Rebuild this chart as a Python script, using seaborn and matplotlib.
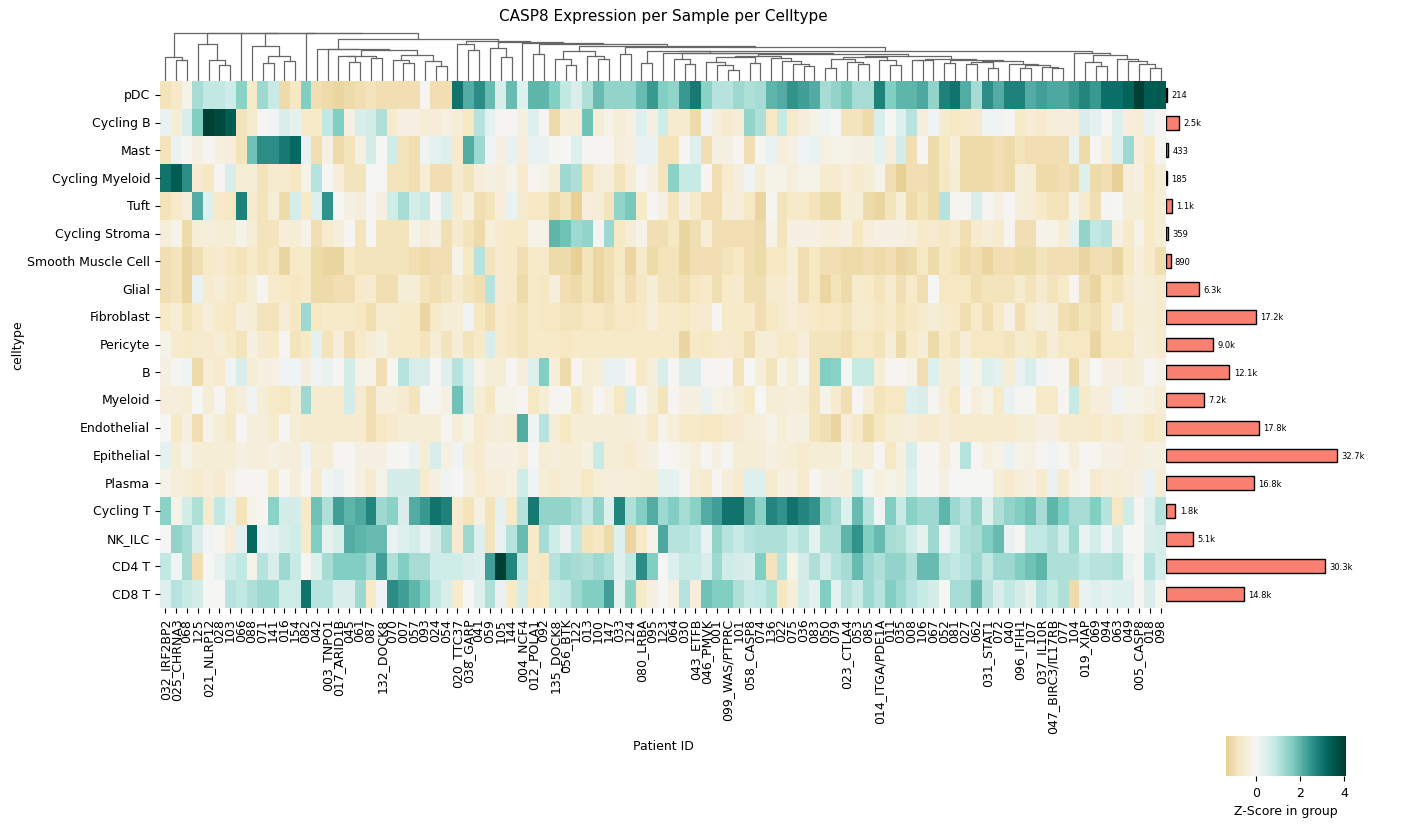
import numpy as np
import pandas as pd
import seaborn as sns
import matplotlib
matplotlib.use("Agg")
import matplotlib.pyplot as plt

# Column order as shown under the heatmap
patients = ['032_IRF2BP2', '025_CHRNA3', '068', '125', '021_NLRP12', '028', '103', '066', '088', '071',
            '141', '016', '154', '082', '042', '003_TNPO1', '017_ARID1B', '045', '061', '087',
            '132_DOCK8', '070', '007', '057', '093', '024', '054', '020_TTC37', '038_GARP', '041',
            '059', '105', '144', '004_NCF4', '012_POLA1', '092', '135_DOCK8', '056_BTK', '122', '013',
            '100', '147', '033', '124', '080_LRBA', '095', '123', '064', '030', '043_ETFB',
            '046_PMVK', '001', '099_WAS/PTPRC', '101', '058_CASP8', '074', '136', '022', '075', '036',
            '083', '050', '079', '023_CTLA4', '053', '085', '014_ITGA/PDE1A', '011', '035', '008',
            '106', '067', '052', '081', '027', '062', '031_STAT1', '072', '040', '096_IFIH1',
            '107', '037_IL10R', '047_BIRC3/IL17RB', '077', '104', '019_XIAP', '069', '094', '063', '049',
            '005_CASP8', '018', '098']

celltypes = ['pDC', 'Cycling B', 'Mast', 'Cycling Myeloid', 'Tuft', 'Cycling Stroma',
             'Smooth Muscle Cell', 'Glial', 'Fibroblast', 'Pericyte', 'B', 'Myeloid',
             'Endothelial', 'Epithelial', 'Plasma', 'Cycling T', 'NK_ILC', 'CD4 T', 'CD8 T']

cell_counts = [214, 2500, 433, 185, 1100, 359, 890, 6300, 17200, 9000, 12100, 7200,
               17800, 32700, 16800, 1800, 5100, 30300, 14800]

# z-scores, one list per cell type
z_pdc = [-0.9, -0.7, -0.2, 1.2, 0.9, 0.9, 0.7, 1.5, -0.7, 1.3, 0.8, -1.1, -0.8, 1.6, -1.0, -1.1, -1.2, -1.1, -1.0, -0.9, -1.0, -1.0, -1.0, -1.0,
         -0.1, -1.0, -1.0, 3.0, 2.1, 2.6, 1.9, 0.5, 1.9, 0.4, 2.0, 2.0, 1.6, 0.9, 0.5, 1.1, 1.9, 1.4, 1.4, 1.4, 1.9, 2.4, 1.6, 1.4,
         2.4, 2.9, 1.5, 1.0, 1.0, 1.3, 1.1, 1.2, 2.0, 2.1, 2.5, 2.3, 2.1, 1.2, 1.4, 1.7, 1.2, 1.2, 2.8, 1.6, 2.0, 2.0, 2.2,
         1.4, 2.8, 3.0, 2.1, 1.2, 2.6, 2.1, 2.8, 2.8, 2.1, 2.3, 2.2, 2.2, 2.4, 2.7, 2.4, 3.1, 3.1, 3.3, 4.0, 3.4, 3.5]
z_cycling_b = [0.2, -0.5, 0.5, 1.6, 4.0, 3.8, 3.4, -0.9, -0.6, -0.1, 0.1, 0.5, 0.3, -0.7, -0.7, 0.9, 1.6, -0.3, 0.5, 0.6, 1.1, -0.6, -0.3, -0.3,
               -0.5, -0.5, -0.3, -0.5, -0.8, 1.0, 0.3, -0.1, -0.1, -0.3, 0.4, -0.1, -1.1, -0.4, -0.5, 1.8, -0.5, -0.2, -0.5, -0.3, 0.4, -0.3, 0.7, -0.6,
               -0.6, -1.1, 0.1, -0.4, -0.6, -0.5, 1.4, 1.1, -0.8, 0.8, -0.7, -0.4, -0.2, 0.1, 0.0, -0.9, -0.9, -1.1, 0.5, 0.0, 0.4, 1.0, -0.4,
               0.1, -0.6, -0.8, -0.7, -0.6, 0.1, 0.1, -0.1, -0.7, -0.5, -0.6, -0.4, -0.4, -0.4, 0.5, 0.3, 0.0, 0.4, -0.4, -0.5, 0.2, -0.1]
z_mast = [-0.9, 0.2, -0.1, -0.3, -0.1, -0.3, -0.4, -0.9, 1.8, 2.6, 2.6, 2.9, 3.2, 0.2, -1.0, -0.3, -1.1, -0.9, -0.3, 0.6, 0.0, 0.7, -0.9, -1.0,
          0.1, 0.3, 0.4, -0.6, 2.1, 1.3, 0.1, -0.3, 0.2, -0.4, 0.2, 0.2, -0.1, 0.0, 0.4, -0.1, -0.1, -0.1, -0.4, -0.3, 0.2, 0.2, -0.9, -0.9,
          -0.1, 0.4, -1.0, -0.3, -0.3, -0.1, -1.0, -0.1, 0.2, -0.4, -0.3, 0.1, 0.2, -0.3, -0.2, -0.2, -0.3, -0.3, 0.3, -0.4, 0.6, -1.0, -0.1,
          -1.1, -0.8, -0.4, -1.1, -1.1, -1.1, -1.0, -1.1, -0.9, -1.0, -1.0, -1.0, -1.0, 0.2, -1.1, 0.0, -0.4, 0.4, 1.3, -0.4, -0.7, -0.1]
z_cycling_myeloid = [3.0, 3.4, 2.6, -0.6, -0.8, -0.1, 0.5, -0.5, -0.5, -0.9, -0.6, -0.6, -0.8, -0.2, 1.0, 0.0, -0.4, -0.9, -0.9, 0.0, 0.0, -0.9, -0.9, -1.0,
                     -0.5, -1.0, -1.0, -0.6, -0.9, -0.4, -0.3, -0.4, -0.2, -0.6, -0.1, -0.2, -0.5, 1.3, 1.1, -0.9, -0.5, -0.4, -0.9, -0.5, -0.1, -0.3, -0.9, 1.5,
                     0.8, 0.8, -0.1, -1.0, -0.6, -0.4, 0.1, -0.5, -0.2, -0.2, -0.4, -0.2, -0.2, -0.6, -0.6, -0.4, -0.6, -0.5, -0.2, -1.0, -1.3, -1.0, -1.0,
                     -1.1, -0.8, -0.5, -1.1, -1.1, -1.1, -1.0, -1.1, -0.4, -0.5, -1.1, -1.1, -1.0, -1.1, 0.4, -1.1, -1.0, -1.3, -0.4, -0.3, -0.8, -0.5]
z_tuft = [-0.9, -0.7, -0.4, 2.1, 0.4, -0.7, -0.8, 2.8, -0.6, -0.9, -0.5, -1.1, 0.6, -0.7, 0.4, 2.5, 0.0, -0.3, -0.4, -0.1, -0.3, 0.7, 1.2, 0.6,
          0.8, -0.1, 0.5, -0.6, -0.3, -1.0, -0.9, -0.4, 0.2, -0.6, -0.8, -0.8, -1.1, -0.9, -1.3, -0.4, -0.5, -0.9, 1.4, 1.7, -0.7, -0.1, -0.3, -0.9,
          -0.3, -0.7, -1.0, -1.0, -0.5, -0.4, -0.8, -1.2, -0.1, -0.9, -0.7, -0.7, -0.9, -1.1, -1.1, -0.5, -0.5, -1.1, -1.2, -0.9, -0.4, -1.1, -0.9,
          -1.1, 1.0, -0.1, -0.1, 0.5, -0.1, -0.3, -0.1, -0.4, -0.5, -0.7, -0.9, -0.9, -0.2, -0.6, -1.0, -0.1, 0.0, -0.5, -0.5, -0.7, -0.5]
z_cycling_stroma = [-0.4, -0.2, -1.1, -0.5, -0.4, -0.5, -0.5, -0.2, -0.5, -0.9, -0.9, -0.4, -0.5, -0.2, -1.0, -0.6, -0.4, -0.1, -0.9, -0.1, -0.9, -0.9, -0.9, -0.2,
                    -0.5, -0.3, -1.0, -0.6, -0.9, -1.1, -0.4, -0.6, -0.7, -0.7, -0.2, -0.2, 2.0, 1.8, 1.3, 1.4, -0.1, 1.3, -0.8, -0.5, -0.2, -1.0, -1.0, -0.8,
                    -1.2, -1.0, -0.5, -1.0, -1.0, -1.0, -1.0, -1.1, -0.2, -0.9, -0.3, -0.3, -0.3, -0.4, -0.4, -0.3, -0.8, -0.4, -0.3, -0.3, -0.3, -0.4, -0.7,
                    -0.6, -0.8, -0.6, -1.0, -0.6, -0.5, -0.6, -0.1, -1.0, -1.0, -0.2, -0.2, -0.5, 0.3, 1.4, 0.9, 1.0, -0.3, -0.7, -0.2, -0.7, -0.5]
z_smooth_muscle = [-1.0, -0.9, -1.2, -1.0, -0.7, -0.6, -0.8, -0.9, -0.7, -0.9, -0.8, -1.2, -0.7, -0.7, -1.1, -1.2, -1.2, -0.8, -0.9, -0.9, -0.9, -0.9, -0.9, -1.0,
                   -1.1, -1.0, -1.0, -0.2, -0.8, 1.0, -0.9, -0.6, -0.7, -1.0, -0.7, -0.7, -1.1, -1.1, -1.3, -0.9, -1.2, -1.0, -0.8, -1.2, -0.7, -1.1, -0.9, -0.9,
                   -1.2, -1.0, -1.0, -1.0, -0.9, -0.8, -1.0, -1.1, -0.8, -0.8, -0.5, -1.0, -0.8, -1.0, -1.0, -1.1, -1.1, -1.0, -1.1, -1.0, -1.2, -1.1, -0.8,
                   -1.1, -0.8, -0.9, -1.1, -1.0, -1.2, -1.0, -1.0, -1.1, -1.1, -0.9, -1.0, -1.0, -1.0, -1.2, -1.0, -1.0, -1.2, -0.8, -0.4, -0.7, -1.0]
z_glial = [-1.0, -0.9, -1.2, 0.2, -0.6, -0.5, -0.7, -0.8, -0.5, -0.1, -0.6, -0.7, -0.8, -0.7, -1.1, -1.1, -1.0, -1.0, -0.7, -0.6, -1.0, -1.0, -0.5, -0.5,
           -0.9, -1.0, -0.9, -0.6, -0.9, -1.0, 1.0, -0.6, -0.7, -1.1, -0.7, -0.8, -0.4, -1.0, -1.1, -0.9, -1.2, -1.0, -0.7, -1.0, -0.8, -0.5, -0.9, -0.9,
           -1.0, -0.8, -0.7, -1.0, -0.7, -0.6, -1.0, -1.0, -0.6, -0.6, -0.4, -1.0, -0.8, -1.2, -0.9, -1.1, -0.6, -0.7, -0.9, -0.6, -1.0, -0.7, -1.0,
           0.0, -0.8, -0.8, -0.8, -1.0, -0.9, -0.9, -0.9, -0.6, -0.9, -0.6, -0.9, -0.7, -0.1, -1.0, -1.2, -0.8, -0.9, -0.6, -0.4, -0.5, -0.6]
z_fibroblast = [-0.7, -0.5, -0.9, -0.7, -0.4, -0.7, -0.8, -0.4, -0.5, -0.9, -0.9, -0.5, -0.8, 1.3, -0.8, -0.7, -0.7, -0.7, -0.8, -1.0, -0.6, -0.6, -0.7, -0.7,
                -1.2, -0.7, -0.5, -0.5, 0.1, -0.8, -1.0, -0.6, -0.8, -0.9, -0.7, -0.8, -0.8, -0.9, -0.9, -0.8, -0.8, -0.9, -0.8, -0.8, -0.7, -0.4, -0.7, -0.7,
                -0.8, -0.6, -0.6, -0.1, -0.7, -0.7, -0.7, -1.0, -0.8, -0.6, -0.5, -0.6, -0.7, -0.8, -0.8, -0.9, -0.6, -0.6, -0.8, -0.7, -0.9, -0.8, -0.6,
                -0.5, -0.6, -0.7, -1.0, -0.7, -1.0, -0.7, -0.3, -1.0, -0.6, -0.4, -0.5, -1.0, -1.1, -0.9, -1.0, -0.8, -0.3, -0.7, -0.5, -0.5, -0.6]
z_pericyte = [-0.2, -0.6, -0.7, -0.6, -0.6, -0.5, -0.7, -0.9, -0.3, -0.6, -0.7, -0.1, -0.9, -0.7, 0.3, -0.9, -0.4, -1.0, -0.7, -0.5, -0.3, -0.7, -0.7, -0.7,
              -0.9, -0.5, -0.9, -0.5, -0.9, -0.7, 0.5, -0.6, -0.8, -0.9, -0.7, -0.7, -0.7, -0.8, -0.7, -0.7, -0.7, -0.7, -0.7, -0.7, -0.7, -0.7, -0.7, -0.7,
              -1.2, -0.7, -0.8, -0.7, -0.6, -0.7, -1.0, -0.5, -0.5, -0.7, -0.7, -0.4, -0.9, -0.9, -0.9, -1.0, -0.8, -0.8, -0.9, -0.5, -1.1, -0.7, -0.5,
              -1.1, -0.7, -0.9, -0.5, -0.8, -0.8, -0.8, -0.9, -0.6, -0.7, -0.9, -0.5, -0.8, -0.8, -0.8, -1.2, -0.8, -0.8, -0.8, -0.4, -0.5, -0.6]
z_b = [-0.3, -0.1, 0.1, -1.1, -0.5, -0.6, 0.1, 0.5, -0.5, -0.3, -0.3, 0.1, 0.1, -0.4, 0.1, 0.2, -0.1, 0.6, -0.2, -0.2, -1.0, -0.1, 1.0, 0.5,
       0.5, 0.0, 0.4, 1.0, 0.4, -0.2, -0.5, -0.5, -0.1, -0.4, 0.4, 1.6, -0.4, -1.1, -0.1, -0.5, -0.4, 0.2, 0.2, -0.1, -0.7, -0.4, 0.5, -0.1,
       0.5, 0.5, -0.1, -0.1, -0.1, -0.9, 0.0, -0.4, -0.9, -0.2, -0.5, -0.1, -0.9, 1.6, 1.5, 0.0, 0.8, 0.8, -0.5, -0.1, -0.1, -0.2, -1.0,
       0.4, -0.5, -0.5, 0.1, -0.2, 0.4, 0.3, -0.5, 0.2, 0.5, 0.1, -0.1, -0.1, -1.1, -0.5, 0.0, -0.3, -0.3, -0.5, -0.4, -0.1, -0.2]
z_myeloid = [-0.4, -0.4, -0.5, 0.0, -0.5, -0.1, -0.6, -0.4, 0.1, -0.5, -0.7, -0.8, -0.5, 1.3, -0.6, -0.6, -0.6, 0.6, -0.6, -1.0, -0.4, -0.4, -0.6, -0.9,
             -0.1, -0.1, -0.3, 1.8, 0.5, -0.5, -0.8, -0.2, -0.2, -0.1, -0.8, -0.5, -0.1, -0.1, -0.8, -0.5, -0.1, -0.3, -0.8, 0.5, -0.1, -0.5, -0.9, -0.1,
             -0.3, -0.3, 0.2, -0.2, -0.3, -0.5, -0.7, 0.0, -0.5, -0.5, -0.4, -0.5, -0.9, -0.2, -0.6, -1.0, -0.1, -0.5, -0.9, -0.8, -0.8, 0.4, 0.5,
             -0.1, -0.5, -0.8, -0.1, -0.4, -0.2, -0.7, 0.2, -0.1, -0.1, -0.7, -0.7, -0.1, 0.8, -0.7, -0.4, -0.4, 0.1, -0.2, -0.2, -0.3, -0.5]
z_endothelial = [0.0, -0.7, -0.3, -1.0, -0.2, -0.5, -0.7, -0.1, -0.4, -0.4, -0.6, -0.1, -0.5, -0.6, -0.6, -0.6, -0.6, -0.6, -0.6, -1.0, -0.8, -0.6, -0.5, -0.5,
                 -0.5, -0.5, -0.1, -0.4, -0.2, -0.6, -0.5, -0.4, -0.5, 2.1, 0.1, 1.0, -0.5, -0.8, -0.5, -0.5, -0.5, -0.5, -0.5, -0.5, -0.4, -0.7, -0.2, -0.4,
                 -0.7, -0.7, -0.8, -0.8, -0.6, -0.6, -0.4, -0.4, -0.2, -0.5, -0.3, -0.3, -0.9, -1.0, -1.2, -0.4, -0.7, -1.1, -0.8, -0.5, -0.5, -0.4, -0.6,
                 -0.6, -0.4, -0.6, -0.6, -0.6, -0.6, -0.6, -0.6, -0.5, -0.5, -0.3, -0.3, -0.6, -0.6, -0.6, -0.7, -0.5, -0.6, -0.4, -0.5, -0.8, -0.6]
z_epithelial = [0.3, -0.5, -0.2, -0.5, -0.5, -0.5, -0.5, -0.3, -0.4, -0.4, -0.3, -0.4, -0.4, 0.1, -0.5, -0.5, -0.1, -0.1, -0.3, -0.3, -0.3, -0.1, 0.0, 0.2,
                -0.5, 0.5, -0.3, 0.1, -0.5, -0.6, -0.3, -0.3, -0.3, -0.5, 0.0, -0.5, -0.4, -0.5, -0.5, -0.3, 0.8, -0.5, -0.5, -0.6, -0.4, -0.3, 0.0, -0.1,
                -0.2, -0.4, -0.1, -0.3, -0.1, -0.5, -0.5, -0.5, -0.3, -0.4, -0.5, -0.6, -0.5, -0.5, -0.5, -0.2, -0.5, -0.5, -0.1, -0.8, -0.3, 0.5, -0.1,
                -0.1, -0.4, -0.1, 1.0, -0.1, -0.3, -0.2, 0.2, -0.2, -0.3, -0.1, 0.1, -0.1, -0.4, -0.1, -0.1, -0.3, -0.3, -0.4, -0.4, -0.3, -0.3]
z_plasma = [-0.2, -0.4, -0.5, -0.6, -0.4, -0.6, -0.3, -0.1, -0.1, -0.1, -0.6, -0.1, -0.4, -0.1, -0.6, 0.1, 0.2, -0.1, -0.3, -0.6, -0.2, 0.6, 0.6, 0.6,
            -0.6, -0.3, 0.1, 0.0, -0.3, -0.6, -0.4, -0.4, -0.3, 0.7, 0.1, -0.5, -0.6, -0.5, -0.5, -0.8, -0.5, -0.4, -0.4, -0.4, -0.5, -0.5, 0.3, 0.3,
            -0.1, -0.5, -0.6, -0.1, -0.4, -0.6, 0.4, 0.4, -0.6, -0.3, -0.3, -0.6, -0.1, -0.3, -0.3, -0.4, 0.6, -0.1, -0.3, -0.2, -0.3, 0.4, -0.1,
            -0.1, -0.3, 0.0, 0.0, 0.0, 0.0, -0.5, -0.6, -0.4, -0.3, -0.6, 0.2, -0.6, -0.2, -0.1, -0.6, -0.4, -0.5, -0.4, -0.3, 0.2, -0.5]
z_cycling_t = [1.5, -0.2, 0.6, 1.1, -0.6, 0.9, 0.3, -0.9, -0.2, -0.1, 1.5, 0.6, 0.6, -0.7, 1.8, 1.1, 2.3, 2.0, 2.2, 2.7, 1.3, 1.5, 0.5, 2.1,
               2.4, 3.0, 2.8, -0.6, -0.9, -0.3, -0.9, 0.3, -0.7, 1.0, 2.9, 1.4, 1.4, 1.4, 1.2, 0.9, 1.4, 0.4, 2.7, 1.1, 1.6, 2.1, 1.3, 1.6,
               1.2, 1.5, 2.1, 2.3, 3.0, 3.0, 2.1, 1.5, 2.7, 2.5, 3.0, 2.7, 2.5, 1.4, 1.2, 0.4, 1.9, 1.0, 0.1, 1.6, 0.8, 1.5, 1.3,
               1.3, 2.0, 1.3, 1.0, 1.4, 0.4, 1.1, 1.4, 1.6, 1.8, 1.2, 2.0, 1.6, 1.2, 1.2, 1.6, 1.0, -0.8, 0.7, -0.1, 0.4, 1.0]
z_nk_ilc = [0.0, 1.4, 1.2, 0.5, 0.1, -0.1, -0.5, 0.3, 3.2, 0.2, 0.3, 0.5, 0.7, -0.7, 1.6, 0.3, 0.5, 2.1, 2.0, 1.9, 1.9, 0.2, 0.4, 0.6,
            0.2, 0.6, 1.2, -0.6, 1.3, 0.4, -0.9, 0.2, 1.0, 1.9, -0.7, 1.2, 0.7, 0.2, 0.9, -0.9, -0.8, -1.1, 0.4, -1.2, -0.7, -0.2, 2.2, 1.0,
            1.0, 0.9, 0.2, 1.4, 1.0, 0.8, 1.0, 1.1, 1.1, 1.1, 0.8, 1.0, 0.3, 1.1, 1.1, 2.0, 2.5, 1.6, 1.9, 1.2, 1.1, 0.7, 0.3,
            1.3, 0.1, 0.6, 1.1, 1.2, 1.6, 1.9, 0.2, -0.1, 0.9, 0.9, 1.1, 0.7, 1.3, 0.2, 0.6, 0.1, 0.6, 0.0, 0.0, 0.5, 0.6]
z_cd4_t = [0.9, 0.1, 1.2, -1.0, 0.0, 0.2, 0.7, 0.9, -0.2, 1.0, 0.5, 1.3, 0.8, -0.1, 0.4, 1.2, 1.6, 1.6, 1.6, 1.2, 2.3, 1.1, 1.6, 1.2,
           1.2, 0.7, 0.7, 0.7, 0.5, 0.4, 2.3, 4.0, 2.7, 0.9, -0.7, -0.8, 1.0, 1.3, 1.2, 1.1, 1.3, 1.1, 0.4, 0.9, 2.6, 1.6, 0.0, 0.4,
           0.8, 0.8, 0.5, 1.3, 0.7, 0.6, 0.5, 1.6, -0.9, 1.0, -0.2, 0.6, 1.1, 0.6, 1.0, 1.2, 1.9, 1.3, 1.1, 1.4, 1.4, 1.1, 1.9,
           1.9, 1.0, 0.9, 1.0, 1.3, 0.9, 1.3, 1.3, 1.6, 1.8, 2.0, 1.1, 1.1, 1.1, 0.9, 1.0, 1.0, 1.1, 0.2, -0.1, 1.0, 0.6]
z_cd8_t = [0.4, 1.0, 0.8, 0.6, 0.0, 0.0, 1.0, 0.9, 1.1, 1.3, 1.3, 0.7, 0.7, 3.0, 1.0, 1.0, 0.5, 0.5, 1.3, -0.7, 0.1, 2.6, 2.3, 2.0,
           1.6, 0.9, 0.5, -0.6, 0.0, 0.4, 1.1, 0.2, -0.7, 0.6, -0.8, -0.7, 0.8, 0.9, 1.3, 1.6, 1.6, 2.3, 0.3, 1.5, -0.7, -0.3, 0.0, -0.3,
           1.0, -0.4, 1.8, 1.6, 1.6, 1.1, 0.8, 0.9, 1.1, -0.8, -0.4, 0.6, 0.3, 1.6, 0.3, 1.0, 0.8, 1.3, 1.0, 1.6, 1.3, 1.0, 0.8,
           0.6, 0.0, 1.2, 1.2, 1.9, 1.0, 0.5, 0.9, 0.6, 0.3, 1.0, 0.8, 1.1, -1.1, 0.2, 0.4, 0.3, 0.4, 0.4, -0.1, 0.5, -0.1]

rows = [z_pdc, z_cycling_b, z_mast, z_cycling_myeloid, z_tuft, z_cycling_stroma, z_smooth_muscle,
        z_glial, z_fibroblast, z_pericyte, z_b, z_myeloid, z_endothelial, z_epithelial, z_plasma,
        z_cycling_t, z_nk_ilc, z_cd4_t, z_cd8_t]
for name, r in zip(celltypes, rows):
    assert len(r) == len(patients), (name, len(r))

df = pd.DataFrame(rows, index=celltypes, columns=patients)


def ordered_linkage(X):
    # average linkage, but only neighbours may merge, so the leaf order stays as drawn
    clusters = [dict(members=[i], x=i + 0.5, h=0.0) for i in range(len(X))]
    segs = []
    while len(clusters) > 1:
        best, bi = None, 0
        for i in range(len(clusters) - 1):
            a = X[clusters[i]['members']]
            b = X[clusters[i + 1]['members']]
            d = np.sqrt(((a[:, None, :] - b[None, :, :]) ** 2).sum(-1)).mean()
            if best is None or d < best:
                best, bi = d, i
        l, r = clusters[bi], clusters[bi + 1]
        h = max(best, l['h'], r['h'])
        segs.append(([l['x'], l['x'], r['x'], r['x']], [l['h'], h, h, r['h']]))
        clusters[bi:bi + 2] = [dict(members=l['members'] + r['members'], x=(l['x'] + r['x']) / 2, h=h)]
    return segs


W, H = 1415, 828
fig = plt.figure(figsize=(W / 100, H / 100), dpi=100)

def px_axes(x0, y0, x1, y1):
    return fig.add_axes([x0 / W, 1 - y1 / H, (x1 - x0) / W, (y1 - y0) / H])

ax_hm = px_axes(160, 82, 1166, 609)
ax_den = px_axes(160, 32, 1166, 82)
ax_bar = px_axes(1166, 82, 1346, 609)
ax_cb = px_axes(1226, 737, 1346, 777)

sns.heatmap(df, ax=ax_hm, cmap='BrBG', center=0, vmin=-1.38, vmax=4.08,
            xticklabels=True, yticklabels=True, cbar_ax=ax_cb,
            cbar_kws={'orientation': 'horizontal', 'ticks': [0, 2, 4]})
ax_hm.set_xlabel('Patient ID', fontsize=9)
ax_hm.set_ylabel('celltype', fontsize=9)
ax_hm.tick_params(axis='y', rotation=0, labelsize=9)
ax_hm.tick_params(axis='x', rotation=90, labelsize=9)
ax_hm.xaxis.set_label_coords(0.5, (609 - 740) / 527)
ax_hm.yaxis.set_label_coords((24 - 160) / 1006, 0.5)
ax_cb.tick_params(labelsize=9)
ax_cb.set_xlabel('Z-Score in group', fontsize=9)

# column dendrogram
for xs, ys in ordered_linkage(df.T.values):
    ax_den.plot(xs, ys, color='0.4', lw=0.9)
ax_den.set_xlim(0, len(patients))
ax_den.set_ylim(0, None)
ax_den.margins(y=0)
ax_den.axis('off')

# cell counts per cell type
sns.barplot(x=cell_counts, y=celltypes, ax=ax_bar, orient='h', color='salmon',
            saturation=1, edgecolor='black', linewidth=1, width=0.5)
ax_bar.set_ylim(len(celltypes) - 0.5, -0.5)
ax_bar.set_xlim(0, max(cell_counts) * 1.05)
ax_bar.axis('off')
for i, v in enumerate(cell_counts):
    lab = f'{v}' if v < 1000 else f'{v / 1000:.1f}k'
    ax_bar.text(v + 800, i, lab, va='center', fontsize=6)

fig.text(663 / W, 1 - 17 / H, 'CASP8 Expression per Sample per Celltype',
         ha='center', va='center', fontsize=11)

fig.savefig('out.png', dpi=100)
